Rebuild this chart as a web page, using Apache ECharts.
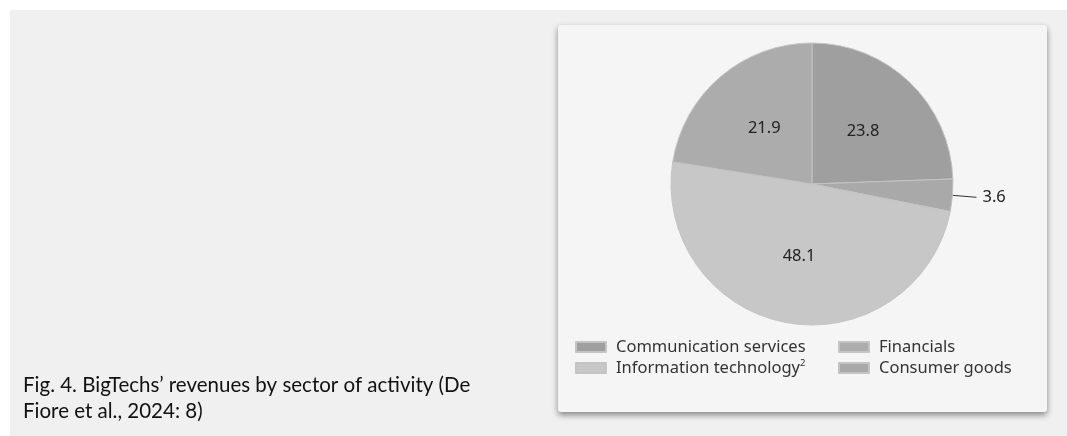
<!DOCTYPE html>
<html>
<head>
<meta charset="utf-8">
<script src="https://cdn.jsdelivr.net/npm/echarts@6/dist/echarts.min.js"></script>
<style>
  html, body { margin: 0; padding: 0; background: #ffffff; }
  #chart { width: 1067px; height: 436px; }
</style>
</head>
<body>
<div id="chart"></div>
<script>
const sectors = ['Communication services', 'Consumer goods', 'Information technology', 'Financials'];
const shares = [23.8, 3.6, 48.1, 21.9];
const sectorColors = ['#9f9f9f', '#a9a9a9', '#c7c7c7', '#acacac'];
const captionLines = ['Fig. 4. BigTechs\u2019 revenues by sector of activity (De', 'Fiore et al., 2024: 8)'];

const chart = echarts.init(document.getElementById('chart'));

const pieData = sectors.map((name, i) => {
  const item = { name: name, value: shares[i], itemStyle: { color: sectorColors[i] } };
  if (name === 'Consumer goods') {
    item.label = { position: 'outside', color: '#222', distanceToLabelLine: 6 };
    item.labelLine = { show: true, length: 24, length2: 0, lineStyle: { color: '#333', width: 1 } };
  }
  return item;
});

const legendText = {
  fontFamily: 'Noto Sans',
  fontSize: 16.5,
  color: '#333',
  lineHeight: 20,
  padding: [0, 0, 0, 5],
  rich: {
    a: { fontFamily: 'Noto Sans', fontSize: 16.5, color: '#333', lineHeight: 20 },
    sup: { fontFamily: 'Noto Sans', fontSize: 9.5, color: '#333', lineHeight: 20, verticalAlign: 'top', padding: [0, 0, 0, 0] }
  }
};

const option = {
  backgroundColor: '#ffffff',
  animation: false,
  graphic: [
    { type: 'rect', left: 10, top: 10, z: -10, shape: { width: 1057, height: 426 }, style: { fill: '#f0f0f0' } },
    { type: 'rect', left: 558, top: 25, z: -5, shape: { width: 489, height: 387, r: 3 },
      style: { fill: '#f5f5f5', shadowBlur: 6, shadowOffsetY: 3, shadowOffsetX: 0, shadowColor: 'rgba(0,0,0,0.45)' } },
    { type: 'text', left: 23, top: 372,
      style: { text: captionLines.join('\n'), font: '20.5px Lato', fill: '#111', lineHeight: 26 } }
  ],
  legend: [
    {
      data: [sectors[0], sectors[2]],
      orient: 'vertical', left: 575, top: 337, padding: 0,
      itemWidth: 30, itemHeight: 10, itemGap: 1,
      icon: 'rect', selectedMode: false,
      textStyle: legendText,
      formatter: function (name) {
        return name === 'Information technology' ? '{a|' + name + '}{sup|2}' : '{a|' + name + '}';
      }
    },
    {
      data: [sectors[3], sectors[1]],
      orient: 'vertical', left: 838, top: 337, padding: 0,
      itemWidth: 30, itemHeight: 10, itemGap: 1,
      icon: 'rect', selectedMode: false,
      textStyle: legendText,
      formatter: function (name) { return '{a|' + name + '}'; }
    }
  ],
  series: [{
    type: 'pie',
    center: [812, 184],
    radius: [0, 141],
    startAngle: 90,
    clockwise: true,
    avoidLabelOverlap: false,
    itemStyle: { borderColor: '#c4c4c4', borderWidth: 1 },
    label: {
      show: true,
      position: 'inside',
      formatter: '{c}',
      fontFamily: 'Noto Sans',
      fontSize: 16.5,
      color: '#222'
    },
    labelLine: { show: false },
    emphasis: { disabled: true },
    data: pieData
  }]
};

chart.setOption(option);
</script>
</body>
</html>
